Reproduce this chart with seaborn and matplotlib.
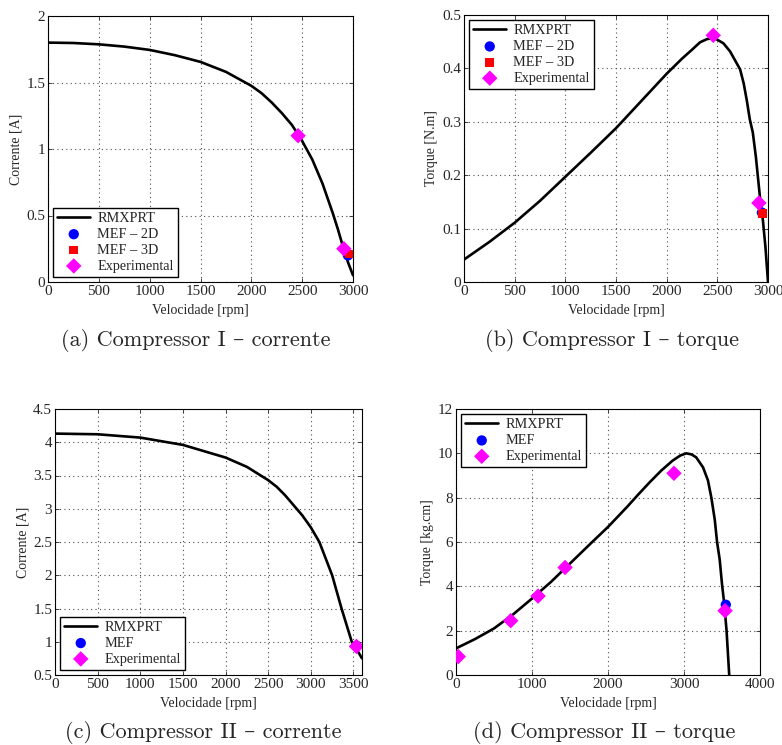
import matplotlib
matplotlib.use("Agg")
import matplotlib.pyplot as plt
import seaborn as sns

# ---------------- data ----------------
# (a) Compressor I - corrente
a_rpm = [0, 250, 500, 750, 1000, 1250, 1500, 1750, 2000, 2100, 2200, 2300, 2400, 2500, 2600, 2700, 2800, 2850, 2900, 2950, 3000]
a_cur = [1.80, 1.797, 1.787, 1.77, 1.745, 1.705, 1.655, 1.58, 1.475, 1.42, 1.35, 1.27, 1.18, 1.06, 0.92, 0.74, 0.52, 0.40, 0.27, 0.15, 0.05]
a_mef2d_x, a_mef2d_y = [2950], [0.20]
a_mef3d_x, a_mef3d_y = [2960], [0.21]
a_exp_x, a_exp_y = [2460, 2910], [1.10, 0.25]

# (b) Compressor I - torque
b_rpm = [0, 250, 500, 750, 1000, 1250, 1500, 1750, 2000, 2150, 2250, 2330, 2400, 2470, 2560, 2625,
         2690, 2725, 2760, 2790, 2820, 2850, 2880, 2920, 2950, 2975, 3000]
b_tq = [0.042, 0.075, 0.111, 0.152, 0.197, 0.242, 0.288, 0.339, 0.390, 0.418, 0.435, 0.449, 0.455, 0.457, 0.447, 0.432,
        0.41, 0.398, 0.372, 0.341, 0.305, 0.28, 0.235, 0.16, 0.115, 0.065, 0.0]
b_mef2d_x, b_mef2d_y = [2940], [0.130]
b_mef3d_x, b_mef3d_y = [2945], [0.128]
b_exp_x, b_exp_y = [2460, 2910], [0.462, 0.148]

# (c) Compressor II - corrente
c_rpm = [0, 500, 1000, 1500, 2000, 2250, 2500, 2600, 2700, 2800, 2900, 3000, 3100, 3250, 3360, 3480, 3540, 3600]
c_cur = [4.13, 4.12, 4.07, 3.96, 3.77, 3.63, 3.43, 3.33, 3.20, 3.05, 2.90, 2.72, 2.50, 2.00, 1.50, 1.00, 0.88, 0.75]
c_mef_x, c_mef_y = [3535], [0.94]
c_exp_x, c_exp_y = [3535], [0.93]

# (d) Compressor II - torque
d_rpm = [0, 250, 500, 750, 1000, 1250, 1500, 1750, 2000, 2250, 2400, 2550, 2700, 2850, 2950, 3030, 3100, 3160,
         3250, 3315, 3360, 3405, 3435, 3470, 3500, 3530, 3560, 3595]
d_tq = [1.2, 1.62, 2.1, 2.73, 3.45, 4.2, 5.03, 5.86, 6.68, 7.58, 8.15, 8.7, 9.22, 9.67, 9.9, 10.0, 9.95, 9.82,
        9.37, 8.78, 8.0, 7.0, 6.0, 5.2, 4.1, 3.2, 2.0, 0.0]
d_mef_x, d_mef_y = [3550], [3.17]
d_exp_x = [30, 720, 1080, 1435, 2868, 3540]
d_exp_y = [0.83, 2.45, 3.56, 4.85, 9.10, 2.90]

# tick labels
a_xticks = [0, 500, 1000, 1500, 2000, 2500, 3000]
a_yticks = [0, 0.5, 1, 1.5, 2]
a_yticklabels = ["0", "0.5", "1", "1.5", "2"]
b_yticks = [0, 0.1, 0.2, 0.3, 0.4, 0.5]
b_yticklabels = ["0", "0.1", "0.2", "0.3", "0.4", "0.5"]
c_xticks = [0, 500, 1000, 1500, 2000, 2500, 3000, 3500]
c_yticks = [0.5, 1, 1.5, 2, 2.5, 3, 3.5, 4, 4.5]
c_yticklabels = ["0.5", "1", "1.5", "2", "2.5", "3", "3.5", "4", "4.5"]
d_xticks = [0, 1000, 2000, 3000, 4000]
d_yticks = [0, 2, 4, 6, 8, 10, 12]

captions = ["(a) Compressor I – corrente", "(b) Compressor I – torque",
            "(c) Compressor II – corrente", "(d) Compressor II – torque"]

# ---------------- style ----------------
sns.set_style("ticks")
plt.rcParams['font.family'] = ['Liberation Serif', 'DejaVu Serif']
plt.rcParams['mathtext.fontset'] = 'cm'

fig = plt.figure(figsize=(7.82, 7.45), dpi=100)
W, H = 782, 745


def add_ax(l, r, t, b):
    return fig.add_axes([l / W, 1 - b / H, (r - l) / W, (b - t) / H])


ax_a = add_ax(48, 353, 16, 282)
ax_b = add_ax(464, 768, 15, 282)
ax_c = add_ax(55, 362, 409, 675)
ax_d = add_ax(456, 760, 409, 675)

LW = 1.9


def curve(ax, x, y):
    sns.lineplot(x=x, y=y, ax=ax, color='black', lw=LW, label='RMXPRT',
                 sort=False, estimator=None)


def pts(ax, x, y, marker, color, s, label):
    sns.scatterplot(x=x, y=y, ax=ax, marker=marker, color=color, s=s,
                    edgecolor='none', label=label, zorder=5)


def style(ax, xlim, xticks, ylim, yticks, yticklabels, ylabel, loc):
    ax.set_xlim(*xlim)
    ax.set_ylim(*ylim)
    ax.set_xticks(xticks)
    ax.set_xticklabels([str(v) for v in xticks])
    ax.set_yticks(yticks)
    ax.set_yticklabels(yticklabels)
    ax.set_xlabel("Velocidade [rpm]", fontsize=10, labelpad=4.5)
    ax.set_ylabel(ylabel, fontsize=10, labelpad=3)
    ax.grid(True, linestyle=(0, (1, 3)), color='0.3', linewidth=0.8)
    ax.tick_params(direction='in', top=True, right=True, length=3,
                   width=0.6, labelsize=11, pad=2)
    for s in ax.spines.values():
        s.set_linewidth(0.8)
        s.set_color('black')
    leg = ax.legend(loc=loc, frameon=True, fancybox=False, framealpha=1,
                    edgecolor='black', fontsize=10.3, borderaxespad=0.35,
                    handlelength=2.3, labelspacing=0.2, borderpad=0.3,
                    handletextpad=0.5)
    leg.get_frame().set_linewidth(1.0)


# (a)
curve(ax_a, a_rpm, a_cur)
pts(ax_a, a_mef2d_x, a_mef2d_y, 'o', 'blue', 55, 'MEF – 2D')
pts(ax_a, a_mef3d_x, a_mef3d_y, 's', 'red', 40, 'MEF – 3D')
pts(ax_a, a_exp_x, a_exp_y, 'D', 'magenta', 62, 'Experimental')
style(ax_a, (0, 3000), a_xticks, (0, 2), a_yticks, a_yticklabels, "Corrente [A]", 'lower left')

# (b)
curve(ax_b, b_rpm, b_tq)
pts(ax_b, b_mef2d_x, b_mef2d_y, 'o', 'blue', 55, 'MEF – 2D')
pts(ax_b, b_mef3d_x, b_mef3d_y, 's', 'red', 40, 'MEF – 3D')
pts(ax_b, b_exp_x, b_exp_y, 'D', 'magenta', 62, 'Experimental')
style(ax_b, (0, 3000), a_xticks, (0, 0.5), b_yticks, b_yticklabels, "Torque [N.m]", 'upper left')

# (c)
curve(ax_c, c_rpm, c_cur)
pts(ax_c, c_mef_x, c_mef_y, 'o', 'blue', 55, 'MEF')
pts(ax_c, c_exp_x, c_exp_y, 'D', 'magenta', 62, 'Experimental')
style(ax_c, (0, 3600), c_xticks, (0.5, 4.5), c_yticks, c_yticklabels, "Corrente [A]", 'lower left')

# (d)
curve(ax_d, d_rpm, d_tq)
pts(ax_d, d_mef_x, d_mef_y, 'o', 'blue', 55, 'MEF')
pts(ax_d, d_exp_x, d_exp_y, 'D', 'magenta', 62, 'Experimental')
style(ax_d, (0, 4000), d_xticks, (0, 12), d_yticks, [str(v) for v in d_yticks], "Torque [kg.cm]", 'upper left')

# captions
cap_pos = [(196, 341), (612, 341), (203, 733), (604, 733)]
for txt, (cx, cy) in zip(captions, cap_pos):
    fig.text(cx / W, 1 - cy / H, txt, ha='center', va='center', fontsize=16,
             family=['cmr10', 'DejaVu Serif'])

fig.savefig("out.png", dpi=100)
